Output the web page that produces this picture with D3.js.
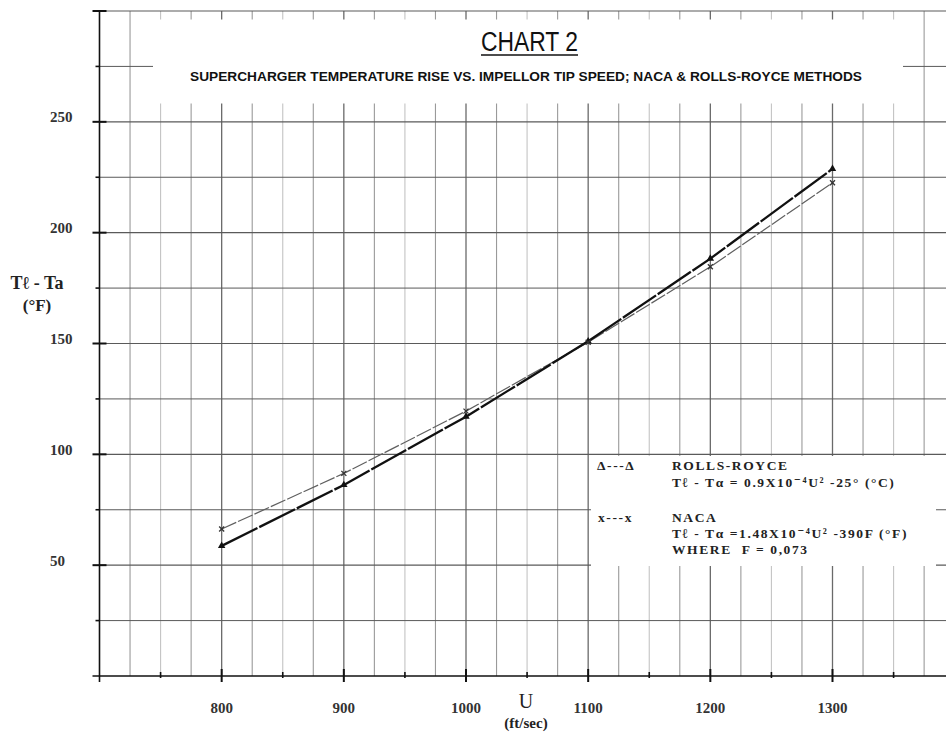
<!DOCTYPE html>
<html>
<head>
<meta charset="utf-8">
<script src="https://cdn.jsdelivr.net/npm/d3@7"></script>
<style>
  html, body { margin: 0; padding: 0; background: #fff; }
  svg { display: block; }
</style>
</head>
<body>
<svg id="chart" width="946" height="732"></svg>
<script>
// ---- data ----
const tipSpeeds = [800, 900, 1000, 1100, 1200, 1300];
const rollsRoyce = [58.7, 86.2, 117, 151, 188.3, 228.8];
const naca = [66.3, 91.4, 119.5, 150.6, 184.6, 222.5];
const xTickLabels = ["800", "900", "1000", "1100", "1200", "1300"];
const yTickLabels = ["50", "100", "150", "200", "250"];
const titleText = "CHART 2";
const subtitleText = "SUPERCHARGER TEMPERATURE RISE VS. IMPELLOR TIP SPEED; NACA & ROLLS-ROYCE METHODS";

const svg = d3.select("#chart");
const x = d3.scaleLinear().domain([700, 1300]).range([99.5, 832.5]);
const y = d3.scaleLinear().domain([0, 300]).range([676, 11]);

const xRight = 946;
const serif = "'Liberation Serif', 'DejaVu Serif', serif";
const sans = "'Liberation Sans', Arial, sans-serif";

// ---- grid ----
const g = svg.append("g");
const vLines = d3.range(725, 1376, 25);
g.selectAll("line.v").data(vLines).join("line")
  .attr("x1", d => x(d)).attr("x2", d => x(d))
  .attr("y1", y(300)).attr("y2", y(0))
  .attr("stroke", d => d % 100 === 0 ? "#6a6a6a" : (d % 50 === 0 ? "#c4c4c4" : "#9a9a9a"))
  .attr("stroke-width", d => d % 100 === 0 ? 1.3 : 1.1);

const hLines = d3.range(25, 301, 25);
g.selectAll("line.h").data(hLines).join("line")
  .attr("x1", x(700)).attr("x2", xRight)
  .attr("y1", d => y(d)).attr("y2", d => y(d))
  .attr("stroke", "#5a5a5a")
  .attr("stroke-width", d => d % 50 === 0 ? 1.2 : 1);

// title white box
g.append("rect").attr("x", 153).attr("y", 19.5).attr("width", 750).attr("height", 84).attr("fill", "#fff");
// legend white box
g.append("rect").attr("x", 591).attr("y", 456).attr("width", 345).attr("height", 110).attr("fill", "#fff");

// ---- axes ----
const ax = svg.append("g").attr("stroke", "#111");
ax.append("line").attr("x1", x(700)).attr("x2", x(700)).attr("y1", y(300)).attr("y2", y(0) + 6).attr("stroke-width", 1.6);
ax.append("line").attr("x1", x(700) - 7).attr("x2", xRight).attr("y1", y(0)).attr("y2", y(0)).attr("stroke-width", 1.6);
// y ticks
ax.selectAll("line.ym").data(d3.range(50, 301, 50)).join("line")
  .attr("x1", x(700) - 7).attr("x2", x(700) + 7)
  .attr("y1", d => y(d)).attr("y2", d => y(d)).attr("stroke-width", 2);
ax.selectAll("line.yn").data(d3.range(25, 300, 50)).join("line")
  .attr("x1", x(700) - 4).attr("x2", x(700))
  .attr("y1", d => y(d)).attr("y2", d => y(d)).attr("stroke-width", 1.6);
// x ticks
ax.selectAll("line.xm").data(tipSpeeds).join("line")
  .attr("x1", d => x(d)).attr("x2", d => x(d))
  .attr("y1", y(0) - 7).attr("y2", y(0) + 6).attr("stroke-width", 2);
ax.selectAll("line.xn").data(d3.range(750, 1351, 100)).join("line")
  .attr("x1", d => x(d)).attr("x2", d => x(d))
  .attr("y1", y(0) - 4).attr("y2", y(0) + 2).attr("stroke-width", 1.6);

// tick labels
svg.selectAll("text.yl").data(yTickLabels).join("text")
  .attr("x", 50).attr("y", d => y(+d) - 3)
  .attr("dominant-baseline", "middle")
  .attr("font-family", serif).attr("font-size", 15).attr("font-weight", "bold")
  .attr("fill", "#333").text(d => d);
svg.selectAll("text.xl").data(xTickLabels).join("text")
  .attr("x", d => x(+d)).attr("y", 713)
  .attr("text-anchor", "middle")
  .attr("font-family", serif).attr("font-size", 15).attr("font-weight", "bold")
  .attr("fill", "#333").text(d => d);

// axis titles
svg.append("text").attr("x", 526).attr("y", 708).attr("text-anchor", "middle")
  .attr("font-family", serif).attr("font-size", 20).attr("fill", "#222").text("U");
svg.append("text").attr("x", 526).attr("y", 728).attr("text-anchor", "middle")
  .attr("font-family", serif).attr("font-size", 15).attr("font-weight", "bold").attr("fill", "#222").text("(ft/sec)");
svg.append("text").attr("x", 37).attr("y", 289).attr("text-anchor", "middle")
  .attr("font-family", serif).attr("font-size", 18).attr("font-weight", "bold").attr("fill", "#222").text("Tℓ - Ta");
svg.append("text").attr("x", 37).attr("y", 311).attr("text-anchor", "middle")
  .attr("font-family", serif).attr("font-size", 17).attr("font-weight", "bold").attr("fill", "#222").text("(°F)");

// title
svg.append("text").attr("x", 481).attr("y", 51)
  .attr("font-family", sans).attr("font-size", 27).attr("fill", "#111")
  .attr("textLength", 97).attr("lengthAdjust", "spacingAndGlyphs").text(titleText);
svg.append("line").attr("x1", 481).attr("x2", 578).attr("y1", 55).attr("y2", 55)
  .attr("stroke", "#111").attr("stroke-width", 1.4);
svg.append("text").attr("x", 190).attr("y", 81)
  .attr("font-family", sans).attr("font-size", 13.5).attr("font-weight", "bold").attr("fill", "#111")
  .attr("textLength", 672).attr("lengthAdjust", "spacingAndGlyphs").text(subtitleText);

// ---- series ----
const line = d3.line().x(d => x(d[0])).y(d => y(d[1]));
const rrPts = tipSpeeds.map((s, i) => [s, rollsRoyce[i]]);
const nacaPts = tipSpeeds.map((s, i) => [s, naca[i]]);

svg.append("path").attr("d", line(nacaPts)).attr("fill", "none")
  .attr("stroke", "#5f5f5f").attr("stroke-width", 1.2).attr("stroke-dasharray", "16,2");
svg.append("path").attr("d", line(rrPts)).attr("fill", "none")
  .attr("stroke", "#111").attr("stroke-width", 2.3).attr("stroke-dasharray", "40,2");

const tri = d3.symbol().type(d3.symbolTriangle).size(24);
svg.selectAll("path.rr").data(rrPts).join("path")
  .attr("d", tri).attr("transform", d => `translate(${x(d[0])},${y(d[1])})`)
  .attr("fill", "#111");
svg.selectAll("g.nx").data(nacaPts).join("g")
  .attr("transform", d => `translate(${x(d[0])},${y(d[1])})`)
  .each(function () {
    const s = d3.select(this);
    s.append("line").attr("x1", -2.5).attr("x2", 2.5).attr("y1", -2.5).attr("y2", 2.5).attr("stroke", "#333").attr("stroke-width", 1.3);
    s.append("line").attr("x1", -2.5).attr("x2", 2.5).attr("y1", 2.5).attr("y2", -2.5).attr("stroke", "#333").attr("stroke-width", 1.3);
  });

// ---- legend ----
const leg = svg.append("g").attr("font-family", serif).attr("font-weight", "bold")
  .attr("font-size", 13.5).attr("fill", "#222").attr("letter-spacing", 1.6);
const legendRows = [
  [597, 470, "Δ---Δ"],
  [672, 470, "ROLLS-ROYCE"],
  [672, 487, "Tℓ - Tα = 0.9X10⁻⁴U² -25° (°C)"],
  [598, 522, "x---x"],
  [672, 522, "NACA"],
  [672, 538, "Tℓ - Tα =1.48X10⁻⁴U² -390F (°F)"],
  [672, 554, "WHERE  F = 0,073"]
];
leg.selectAll("text").data(legendRows).join("text")
  .attr("x", d => d[0]).attr("y", d => d[1])
  .attr("xml:space", "preserve").style("white-space", "pre")
  .text(d => d[2]);
</script>
</body>
</html>
